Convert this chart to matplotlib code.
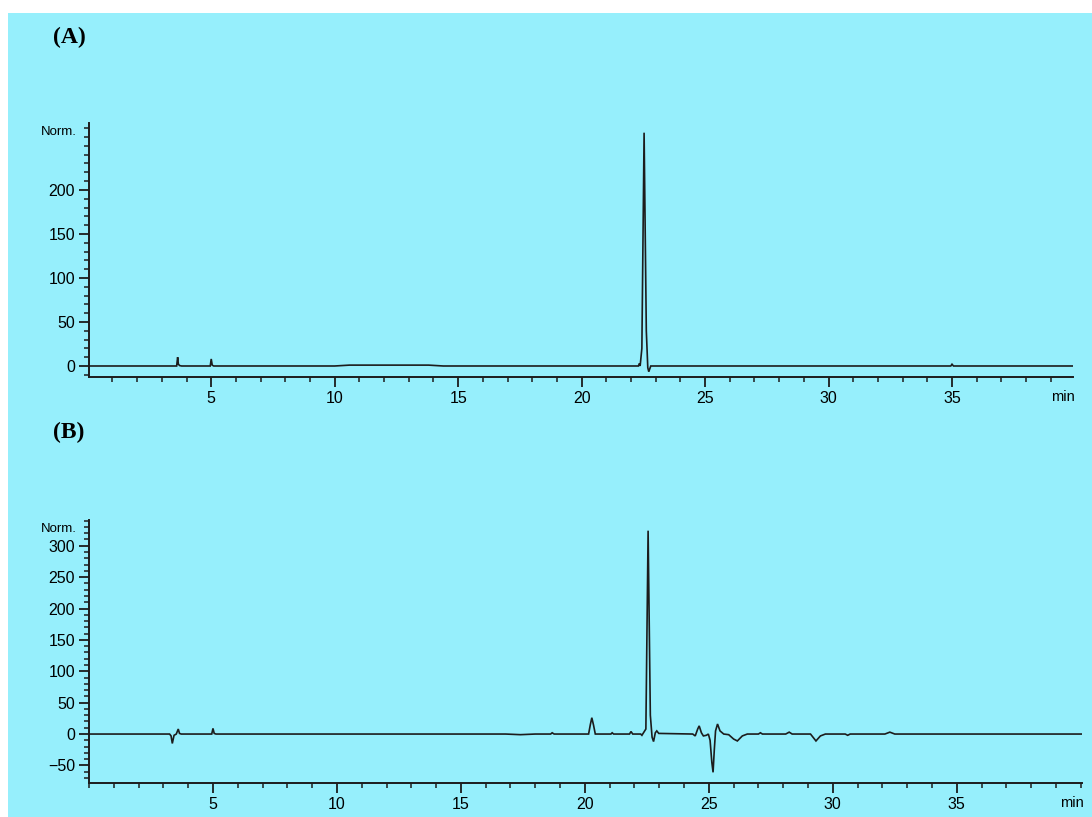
import matplotlib
matplotlib.use("Agg")
import matplotlib.pyplot as plt
from matplotlib.ticker import MultipleLocator

# ---- data (time in min, signal in Norm.) ----
time_a = [0, 3.60, 3.64, 3.67, 3.72, 3.80, 4.96, 5.00, 5.04, 5.10,
          10.0, 10.6, 13.8, 14.4, 22.30, 22.34, 22.37, 22.44, 22.53,
          22.62, 22.68, 22.72, 22.80, 34.95, 35.0, 35.06, 39.9]
signal_a = [0, 0, 10, 2, 0.5, 0, 0, 8, 1, 0,
            0, 1, 1, 0, 0, 3, 0, 20, 265,
            40, -2, -6.5, 0, 0, 2, 0, 0]

time_b = [0, 3.25, 3.31, 3.36, 3.43, 3.52, 3.60, 3.65, 3.72, 3.85,
          4.95, 5.00, 5.05, 5.12, 16.8, 17.4, 18.0, 18.62, 18.68, 18.76,
          20.15, 20.22, 20.28, 20.35, 20.42, 21.05, 21.10, 21.16,
          21.80, 21.86, 21.93, 22.25, 22.30, 22.38, 22.46, 22.55,
          22.64, 22.71, 22.77, 22.84, 22.90, 22.98, 24.35, 24.45,
          24.55, 24.61, 24.70, 24.78, 24.90, 24.98, 25.05, 25.12,
          25.17, 25.22, 25.27, 25.35, 25.45, 25.60, 25.80, 26.00,
          26.15, 26.35, 26.55, 27.00, 27.08, 27.16, 28.10, 28.24,
          28.36, 29.10, 29.32, 29.50, 29.70, 30.50, 30.60, 30.70,
          32.10, 32.30, 32.50, 40.1]
signal_b = [0, 0, -3, -15, -2, 0, 8, 1, 0, 0,
            0, 9, 1, 0, 0, -1, 0, 0, 2, 0,
            0, 15, 26, 14, 0, 0, 2, 0,
            0, 4, 0, 0, -2, 3, 8, 324,
            30, -5, -12, 2, 5, 1, 0, -3,
            8, 13, 2, -3, -2, 0, -10, -45,
            -61, -25, 5, 16, 5, 0, -1, -8,
            -11, -3, 0, 0, 2, 0, 0, 3,
            0, 0, -11, -3, 0, 0, -2, 0,
            0, 3, 0, 0]

yticks_a = [0, 50, 100, 150, 200]
yticks_b = [-50, 0, 50, 100, 150, 200, 250, 300]
xticks = [5, 10, 15, 20, 25, 30, 35]

BG = "#96EFFC"
INK = "#1c1c1c"
W, H = 1092, 817

fig = plt.figure(figsize=(W / 100, H / 100), dpi=100, facecolor="white")
# cyan background panel (white margin top and left)
fig.patches.append(plt.Rectangle((8 / W, 0), 1 - 8 / W, 1 - 13 / H,
                                 transform=fig.transFigure, facecolor=BG,
                                 edgecolor="none", zorder=-10))

SANS = ["Liberation Sans", "DejaVu Sans"]


def make_axes(rect, t, s, xlim, ylim, yticks, label, label_y, norm_y):
    ax = fig.add_axes(rect)
    ax.patch.set_alpha(0)
    ax.plot(t, s, color=INK, lw=1.2, solid_joinstyle="miter")
    ax.set_xlim(*xlim)
    ax.set_ylim(*ylim)
    for side in ("top", "right"):
        ax.spines[side].set_visible(False)
    for side in ("left", "bottom"):
        ax.spines[side].set_linewidth(1.4)
        ax.spines[side].set_color(INK)
    ax.set_xticks(xticks)
    ax.set_yticks(yticks)
    ax.xaxis.set_minor_locator(MultipleLocator(1))
    ax.yaxis.set_minor_locator(MultipleLocator(10))
    ax.tick_params(axis="both", which="major", direction="out", length=7,
                   width=1.3, color=INK, pad=3, labelsize=11.5)
    ax.tick_params(axis="both", which="minor", direction="out", length=3.5,
                   width=1.1, color=INK)
    for lab in ax.get_xticklabels() + ax.get_yticklabels():
        lab.set_fontfamily(SANS)
    fig.text(69 / W, 1 - label_y / H, label, ha="center", va="center",
             fontsize=17, fontweight="bold",
             family=["Liberation Serif", "DejaVu Serif"])
    fig.text(77 / W, 1 - norm_y / H, "Norm.", ha="right", va="center",
             fontsize=9.5, family=SANS)
    return ax


ax_a = make_axes([89 / W, 1 - 377 / H, (1073 - 89) / W, (377 - 123) / H],
                 time_a, signal_a, (0.05, 39.9), (-12.5, 276), yticks_a,
                 "(A)", 37, 132)
fig.text(1063 / W, 1 - 397 / H, "min", ha="center", va="center",
         fontsize=10.5, family=SANS)

ax_b = make_axes([89 / W, 1 - 783 / H, (1082 - 89) / W, (783 - 520) / H],
                 time_b, signal_b, (0.0, 40.05), (-78, 341), yticks_b,
                 "(B)", 432, 529)
fig.text(1072 / W, 1 - 803 / H, "min", ha="center", va="center",
         fontsize=10.5, family=SANS)

fig.savefig("out.png", dpi=100, facecolor="white")
